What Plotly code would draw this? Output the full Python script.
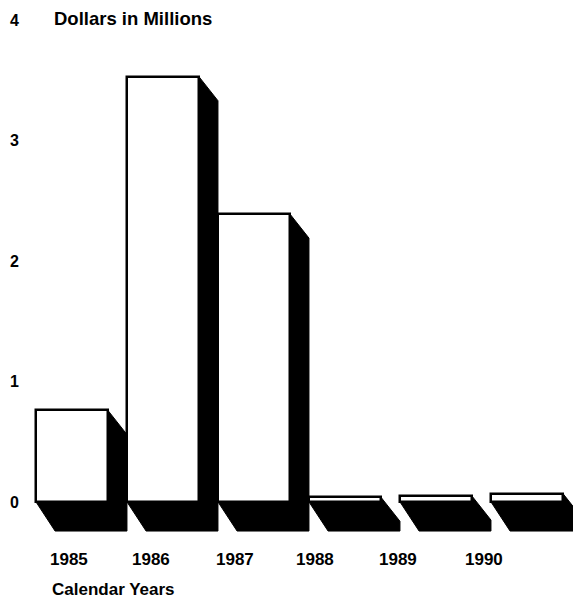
import plotly.graph_objects as go

# Annual amounts, dollars in millions
years = ["1985", "1986", "1987", "1988", "1989", "1990"]
amounts = [0.76, 3.53, 2.39, 0.04, 0.05, 0.07]

y_ticks = [0, 1, 2, 3, 4]

# Drawing parameters (axis units)
BAR_W = 0.79          # front face width
DEPTH_X = 0.209       # receding depth, horizontal
SIDE_DY = 0.20        # drop of the side face top edge
FLOOR_DY = 0.241      # drop of the floor shadow

FONT = dict(family="Liberation Sans, Arial, sans-serif", size=17, color="black", weight=700)

W, H = 573, 599
ML, MR, MT, MB = 20, 0, 20, 64
PW, PH = W - ML - MR, H - MT - MB


def px_to_paper(px, py):
    return (px - ML) / PW, 1 - (py - MT) / PH


fig = go.Figure()

# Black side face + floor shadow for each bar
for i, v in enumerate(amounts):
    xl = i - BAR_W / 2
    xr = i + BAR_W / 2
    xs = [xr, xr + DEPTH_X, xr + DEPTH_X, xl + DEPTH_X, xl, xr, xr]
    ys = [v, v - SIDE_DY, -FLOOR_DY, -FLOOR_DY, 0, 0, v]
    fig.add_trace(go.Scatter(
        x=xs, y=ys, mode="lines", fill="toself",
        fillcolor="black", line=dict(color="black", width=1),
        hoverinfo="skip", showlegend=False,
    ))

# White front faces with a black outline
fig.add_trace(go.Bar(
    x=list(range(len(years))), y=amounts, width=BAR_W,
    marker=dict(color="white", line=dict(color="black", width=2.5)),
    hoverinfo="skip", showlegend=False,
))

# Year labels under the bars (pixel centres)
label_px = [69, 151, 235, 315, 398, 484]
for yr, lx in zip(years, label_px):
    tx, ty = px_to_paper(lx, 559)
    fig.add_annotation(x=tx, y=ty, xref="paper", yref="paper", text=yr,
                       showarrow=False, font=FONT, xanchor="center", yanchor="middle")

tx, ty = px_to_paper(52, 19)
fig.add_annotation(x=tx, y=ty, xref="paper", yref="paper", text="Dollars in Millions",
                   showarrow=False, font=dict(FONT, size=18.5), xanchor="left", yanchor="middle")
tx, ty = px_to_paper(50, 589)
fig.add_annotation(x=tx, y=ty, xref="paper", yref="paper", text="Calendar Years",
                   showarrow=False, font=FONT, xanchor="left", yanchor="middle")

fig.update_layout(
    width=W, height=H,
    margin=dict(l=ML, r=MR, t=MT, b=MB),
    paper_bgcolor="white", plot_bgcolor="white",
    bargap=0,
    xaxis=dict(range=[-0.5714, 5.5055], showgrid=False, zeroline=False,
               showticklabels=False, showline=False, fixedrange=True),
    yaxis=dict(range=[-0.2739, 4], showgrid=False, zeroline=False, showline=False,
               tickvals=y_ticks, ticktext=[str(t) for t in y_ticks],
               ticks="", tickfont=dict(family="Liberation Sans, Arial, sans-serif",
                                       size=16, color="black", weight=700),
               fixedrange=True),
)

fig.write_html("out.html")
